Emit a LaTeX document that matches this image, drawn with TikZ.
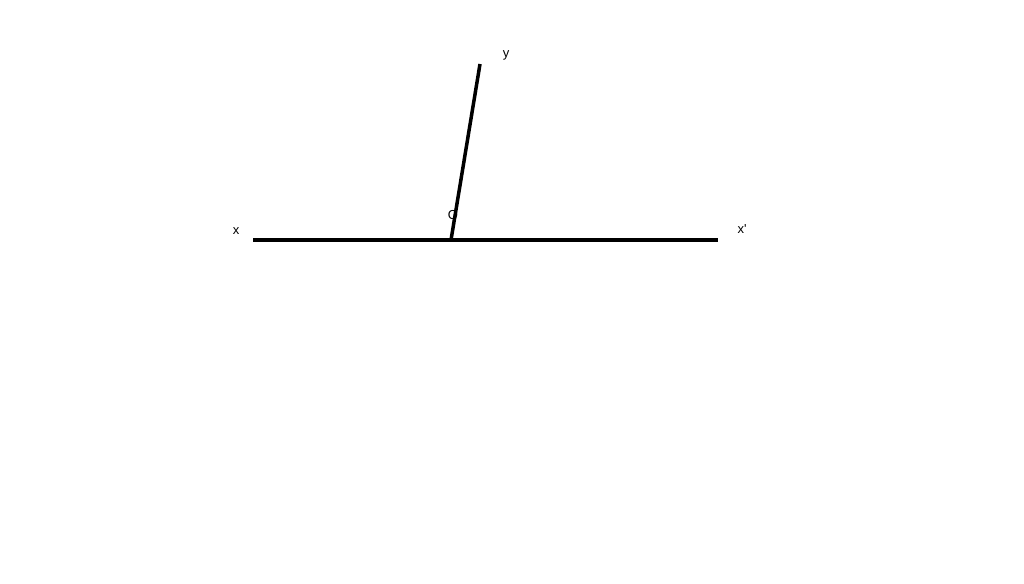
\documentclass[tikz,border=0pt]{standalone}
\usepackage{fontspec}
\setmainfont{Liberation Sans}
\begin{document}
\begin{tikzpicture}[x=1pt,y=-1pt]
\tikzset{lbl/.style={inner sep=0pt,font=\fontsize{13}{15}\selectfont},
  ray/.style={line width=3.5pt}}
\useasboundingbox (0,0) rectangle (1024,583);

\coordinate (X) at (253,240);
\coordinate (X') at (718,240);
\coordinate (O) at (451,240);
\coordinate (Y) at (480,64);

\node[lbl] (lx) at (236,231) {x};
\node[lbl] (lx') at (742,229) {x\textquotesingle};
\node[lbl] (ly) at (506,55) {y};
\node[lbl] (lo) at (453,215) {O};

\path[ray] (X) edge (X');
\path[ray] (O) edge (Y);
\end{tikzpicture}
\end{document}
